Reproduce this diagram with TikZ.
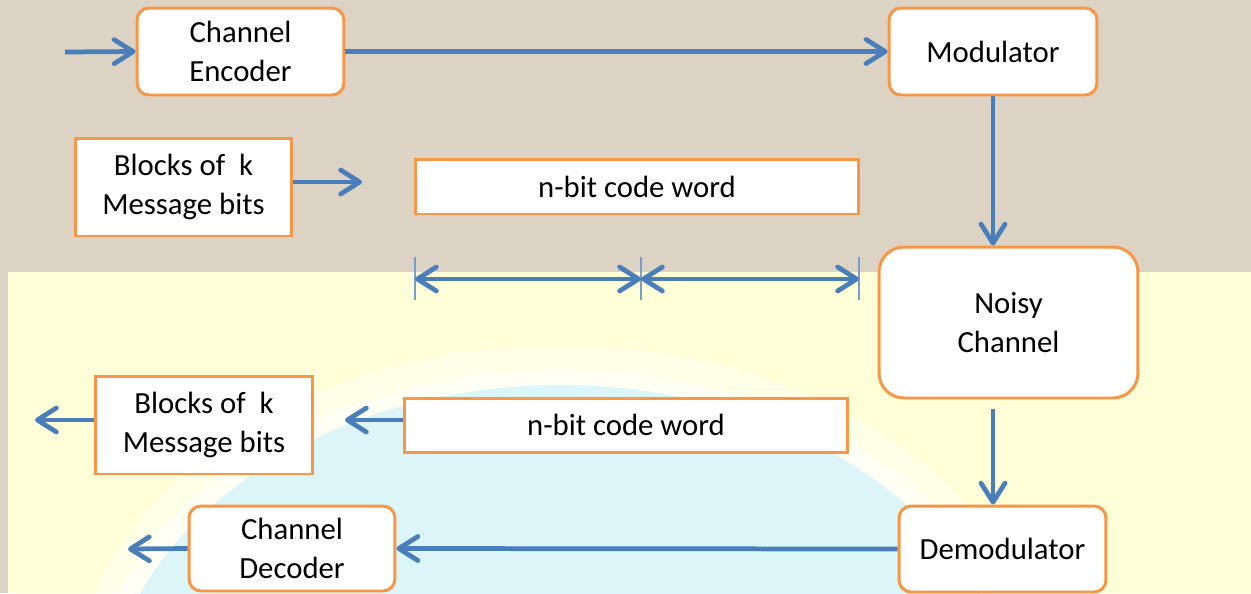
\documentclass[tikz,border=0pt]{standalone}
\usepackage{fontspec}
\setmainfont{Carlito}
\usepackage{xcolor}
\usetikzlibrary{positioning, shapes, calc, arrows.meta}

\definecolor{flowblue}{HTML}{4A7EBB}
\definecolor{boxorange}{HTML}{F79646}
\definecolor{paper}{HTML}{DCD3C5}
\definecolor{paleyellow}{HTML}{FFFFD8}
\definecolor{paleblue}{HTML}{CFF2FA}

\begin{document}
\begin{tikzpicture}[
    x=0.02cm, y=-0.02cm,
    every node/.style={font=\fontsize{17.5}{22.5}\selectfont, align=center, fill=white, draw=boxorange, line width=1.7pt, inner sep=0pt},
    roundbox/.style={rounded corners=0.24cm},
    flow/.style={draw=flowblue, line width=2.7pt, -{Straight Barb[round, length=0.38cm, width=0.48cm]}},
    dimarrow/.style={flow, {Straight Barb[round, length=0.38cm, width=0.48cm]}-{Straight Barb[round, length=0.38cm, width=0.48cm]}},
    tickline/.style={draw=flowblue!75, line width=0.8pt}
]

\useasboundingbox (0,0) rectangle (1251,593);

% Background: paper on top, pale panel with globe below
\fill[paper] (0,0) rectangle (1251,593);
\begin{scope}
    \clip (8,272) rectangle (1251,593);
    \fill[paleyellow] (8,272) rectangle (1251,593);
    \fill[white, opacity=0.4] (560,715) ellipse [x radius=9.9cm, y radius=7.4cm];
    \fill[white, opacity=0.5] (560,720) ellipse [x radius=9.5cm, y radius=7cm];
    \fill[paleblue, opacity=0.75] (560,725) ellipse [x radius=9.1cm, y radius=6.8cm];
\end{scope}

% Transmitter side
\node[roundbox, minimum width=4.14cm, minimum height=1.74cm] (enc) at (240.5,51.5) {Channel\\Encoder};
\node[roundbox, minimum width=4.16cm, minimum height=1.74cm] (mod) at (993,51.5) {Modulator};
\node[minimum width=4.34cm, minimum height=1.96cm] (txbits) at (183.5,187) {Blocks of\ \ k\\Message bits};
\node[minimum width=8.88cm, minimum height=1.1cm] (txword) at (637,186.5) {n-bit code word};

% Channel
\node[rounded corners=0.5cm, minimum width=5.18cm, minimum height=3.02cm] (noisy) at (1008.5,322.5) {Noisy\\Channel};

% Receiver side
\node[minimum width=4.36cm, minimum height=1.96cm] (rxbits) at (204,425) {Blocks of\ \ k\\Message bits};
\node[minimum width=8.88cm, minimum height=1.08cm] (rxword) at (626,425) {n-bit code word};
\node[roundbox, minimum width=4.12cm, minimum height=1.7cm] (dec) at (292,548.5) {Channel\\Decoder};
\node[roundbox, minimum width=4.14cm, minimum height=1.72cm] (demod) at (1002.5,549) {Demodulator};

% Free arrow ends
\coordinate (src) at (65,52);
\coordinate (txout) at (362,182);
\coordinate (rxin) at (345,420);
\coordinate (rxout) at (35,420);
\coordinate (decout) at (128,549);
\coordinate (da) at (415,279);
\coordinate (db) at (641,279);
\coordinate (dc) at (859,279);

% Connectors
\draw[flow] (src) -- (enc.west);
\draw[flow] (enc) -- (mod);
\draw[flow] (mod) -- (noisy.north -| mod);
\draw[flow] (txbits.east |- txout) -- (txout);
\draw[flow] ([yshift=-0.2cm]noisy.south -| mod) -- (demod.north -| mod);
\draw[flow] (rxword.west |- rxin) -- (rxin);
\draw[flow] (rxbits.west |- rxout) -- (rxout);
\draw[flow] (demod.west) -- (dec.east);
\draw[flow] (dec.west) -- (decout);

% Code word length marks
\foreach \px in {415,641,859}
    \draw[tickline] (\px,257) -- (\px,300);
\draw[dimarrow] (da) -- (db);
\draw[dimarrow] (db) -- (dc);

\end{tikzpicture}
\end{document}
